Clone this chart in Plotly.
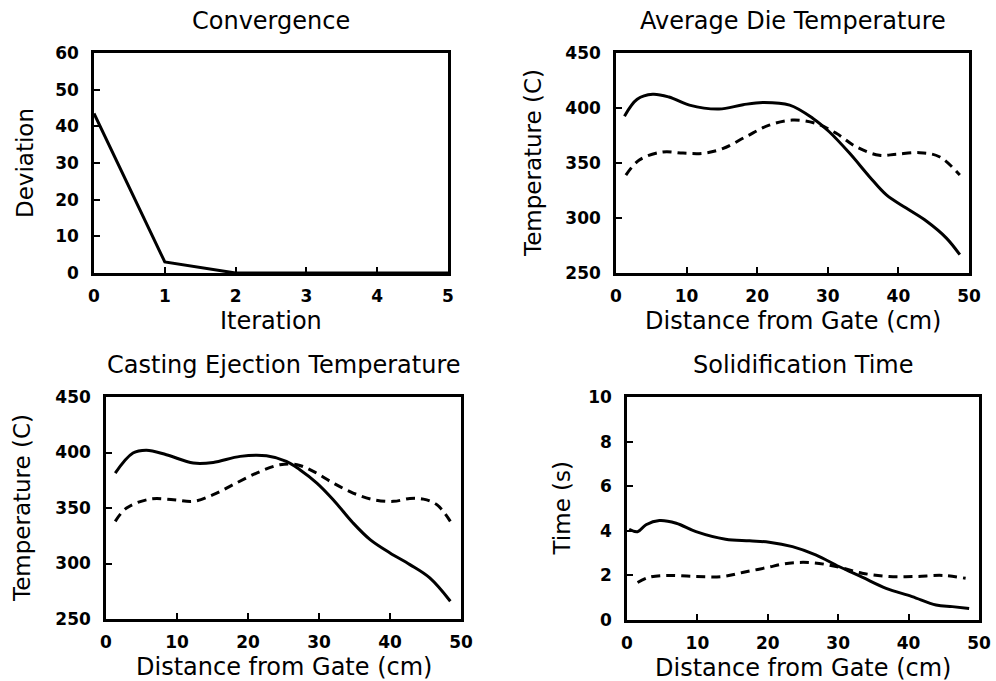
import plotly.graph_objects as go

# ---------------- data ----------------
iteration = [0, 1, 2, 3, 4, 5]
deviation = [43.5, 3, 0, 0, 0, 0]

die_x_solid = [1.2, 3.0, 5.2, 7.5, 10.4, 14.6, 18.0, 20.8, 24.6, 27.9, 30.2, 33.1, 35.9, 38.3, 41.1, 44.0, 46.8, 48.7]
die_y_solid = [392.6, 408, 412.5, 410, 402.6, 399, 403, 405, 402.6, 390.5, 378.4, 358.8, 337.6, 321, 309, 297, 281.7, 266.6]
die_x_dash = [1.4, 3.3, 6.6, 9.5, 12.3, 15.1, 18.4, 21.7, 25.0, 28.3, 31.2, 34.0, 37.3, 39.7, 43.0, 45.8, 48.7]
die_y_dash = [339, 352.7, 360, 359, 358.8, 363, 373.9, 384.4, 389, 386, 377, 364.8, 357, 358, 359.4, 355.7, 339]

cast_x_solid = [1.3, 3.8, 5.7, 8.5, 12.3, 15.1, 18.9, 22.6, 25.4, 27.3, 29.7, 32.0, 34.8, 37.2, 40.0, 42.8, 45.6, 48.5]
cast_y_solid = [381.5, 399.5, 402, 398, 390.5, 391, 396.5, 397, 392, 384.5, 372.5, 357.5, 336.5, 321.5, 309.5, 299, 287, 266]
cast_x_dash = [1.3, 2.9, 6.2, 9.5, 12.3, 15.1, 17.9, 21.2, 24.5, 26.9, 29.2, 32.0, 34.8, 37.7, 40.5, 42.8, 44.7, 46.6, 48.5]
cast_y_dash = [338, 350, 358, 357.5, 356, 362, 371, 381.5, 389, 389, 383, 372.5, 363.5, 357.5, 356, 358.5, 358, 353, 338]

sol_x_solid = [0.3, 1.5, 2.7, 4.6, 7.0, 9.8, 14.0, 17.4, 20.2, 23.5, 26.8, 30.1, 33.4, 36.8, 40.5, 43.9, 46.2, 48.6]
sol_y_solid = [4.07, 3.96, 4.27, 4.46, 4.34, 3.96, 3.62, 3.55, 3.49, 3.29, 2.92, 2.4, 1.92, 1.42, 1.05, 0.67, 0.6, 0.52]
sol_x_dash = [1.5, 3.2, 6.0, 9.8, 13.6, 16.4, 19.7, 23.0, 26.3, 29.7, 33.4, 37.2, 41.0, 44.8, 48.1]
sol_y_dash = [1.68, 1.92, 2.0, 1.95, 1.95, 2.13, 2.34, 2.55, 2.57, 2.4, 2.1, 1.95, 1.95, 2.0, 1.87]

titles = ["Convergence", "Average Die Temperature", "Casting Ejection Temperature", "Solidification Time"]
xlabels = ["Iteration", "Distance from Gate (cm)", "Distance from Gate (cm)", "Distance from Gate (cm)"]
ylabels = ["Deviation", "Temperature (C)", "Temperature (C)", "Time (s)"]

# ---------------- figure ----------------
W, H = 996, 681
FONT = "DejaVu Sans"
fig = go.Figure()

solid = dict(color="black", width=3)
dashed = dict(color="black", width=3, dash="9px,6px")

fig.add_trace(go.Scatter(x=iteration, y=deviation, mode="lines", line=solid, xaxis="x", yaxis="y"))
fig.add_trace(go.Scatter(x=die_x_solid, y=die_y_solid, mode="lines", line=solid, line_shape="spline", xaxis="x2", yaxis="y2"))
fig.add_trace(go.Scatter(x=die_x_dash, y=die_y_dash, mode="lines", line=dashed, line_shape="spline", xaxis="x2", yaxis="y2"))
fig.add_trace(go.Scatter(x=cast_x_solid, y=cast_y_solid, mode="lines", line=solid, line_shape="spline", xaxis="x3", yaxis="y3"))
fig.add_trace(go.Scatter(x=cast_x_dash, y=cast_y_dash, mode="lines", line=dashed, line_shape="spline", xaxis="x3", yaxis="y3"))
fig.add_trace(go.Scatter(x=sol_x_solid, y=sol_y_solid, mode="lines", line=solid, line_shape="spline", xaxis="x4", yaxis="y4"))
fig.add_trace(go.Scatter(x=sol_x_dash, y=sol_y_dash, mode="lines", line=dashed, line_shape="spline", xaxis="x4", yaxis="y4"))

# panel pixel boxes: left, right, top, bottom
boxes = [(94, 448, 53, 273), (616, 969, 53, 273), (106, 461, 397, 619), (627, 979, 397, 620)]
xranges = [[0, 5], [0, 50], [0, 50], [0, 50]]
yranges = [[0, 60], [250, 450], [250, 450], [0, 10]]
xdt = [1, 10, 10, 10]
ydt = [10, 50, 50, 2]

tickfont = dict(family=FONT, size=17, color="black", weight="bold")
axcommon = dict(showline=True, linecolor="black", linewidth=2.5, mirror=True, ticks="inside",
                ticklen=6, tickwidth=1.5, tickcolor="black", showgrid=False, zeroline=False,
                tickfont=tickfont, automargin=False)

annotations = []
for i, (l, r, t, b) in enumerate(boxes):
    sx = "" if i == 0 else str(i + 1)
    xd = [l / W, r / W]
    yd = [1 - b / H, 1 - t / H]
    fig.update_layout(**{
        "xaxis" + sx: dict(domain=xd, range=xranges[i], dtick=xdt[i], tick0=0,
                           anchor="y" + sx, ticklabelstandoff=6, **axcommon),
        "yaxis" + sx: dict(domain=yd, range=yranges[i], dtick=ydt[i], tick0=yranges[i][0],
                           anchor="x" + sx, ticklabelstandoff=9, **axcommon),
    })
    cx = (l + r) / 2
    annotations.append(dict(text=titles[i], x=cx / W, y=1 - (t - 32) / H, xref="paper", yref="paper",
                            showarrow=False, xanchor="center", yanchor="middle",
                            font=dict(family=FONT, size=24, color="black")))
    annotations.append(dict(text=xlabels[i], x=cx / W, y=1 - (b + 48) / H, xref="paper", yref="paper",
                            showarrow=False, xanchor="center", yanchor="middle",
                            font=dict(family=FONT, size=24, color="black")))

ylab_x = [25, 533, 22, 561]
for i, (l, r, t, b) in enumerate(boxes):
    cy = (t + b) / 2
    annotations.append(dict(text=ylabels[i], x=ylab_x[i] / W, y=1 - cy / H, xref="paper", yref="paper",
                            showarrow=False, xanchor="center", yanchor="middle", textangle=-90,
                            font=dict(family=FONT, size=23, color="black")))

fig.update_layout(width=W, height=H, margin=dict(l=0, r=0, t=0, b=0),
                  paper_bgcolor="white", plot_bgcolor="white", showlegend=False,
                  annotations=annotations, font=dict(family=FONT, color="black"))

fig.write_html("out.html", config={"displayModeBar": False},
               post_script="document.body.style.margin='0';document.body.style.overflow='hidden';")
